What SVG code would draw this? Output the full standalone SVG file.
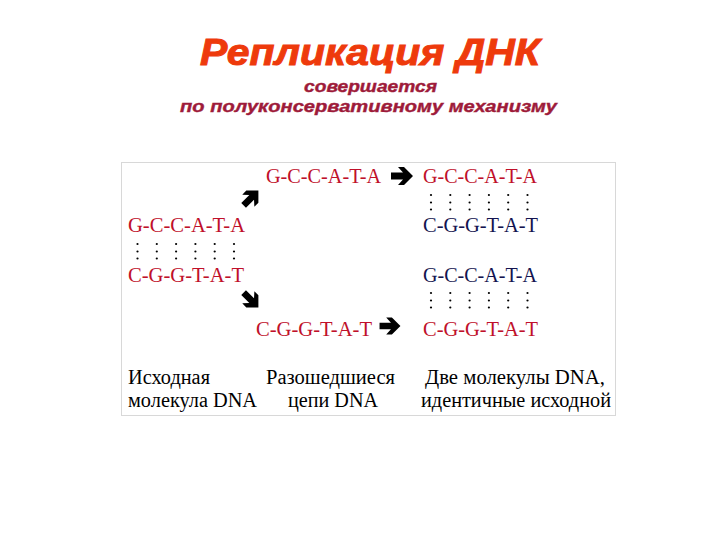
<svg xmlns="http://www.w3.org/2000/svg" xmlns:xlink="http://www.w3.org/1999/xlink" width="720" height="540" viewBox="0 0 720 540">
<style>
.title{font-family:"Liberation Sans",Arial,sans-serif;font-weight:bold;font-style:italic;fill:#EE3A0C;stroke:#EE3A0C;stroke-width:1}
.sub{font-family:"Liberation Sans",Arial,sans-serif;font-weight:bold;font-style:italic;fill:#9E1B3A;stroke:#9E1B3A;stroke-width:0.4;font-size:17px}
.seq{font-family:"Liberation Serif","Times New Roman",serif;font-size:20px}
.old{fill:#C0102A}
.new{fill:#141450}
.lbl{font-family:"Liberation Serif","Times New Roman",serif;font-size:20.5px;fill:#000}
.dot{fill:#000}
</style>
<defs>
<polygon id="arr" points="-11,-3.5 1,-3.5 -4,-9 2,-9 11,0 2,9 -4,9 1,3.5 -11,3.5" fill="#000"/>
<g id="col">
<circle class="dot" cx="0" cy="0" r="1.1"/>
<circle class="dot" cx="0" cy="7.5" r="1.1"/>
<circle class="dot" cx="0" cy="14.5" r="1.1"/>
</g>
<g id="dots">
<use xlink:href="#col" x="0"/>
<use xlink:href="#col" x="19.3"/>
<use xlink:href="#col" x="38.6"/>
<use xlink:href="#col" x="57.9"/>
<use xlink:href="#col" x="77.2"/>
<use xlink:href="#col" x="96.5"/>
</g>
</defs>
<rect width="720" height="540" fill="#fff"/>
<g id="title">
<text class="title" x="200" y="65" font-size="37" textLength="340" lengthAdjust="spacingAndGlyphs">Репликация ДНК</text>
<text class="sub" x="304" y="92" textLength="133" lengthAdjust="spacingAndGlyphs">совершается</text>
<text class="sub" x="180" y="112" textLength="377" lengthAdjust="spacingAndGlyphs">по полуконсервативному механизму</text>
</g>
<rect x="121.5" y="162.5" width="494" height="253" fill="none" stroke="#d8d8d8" stroke-width="1"/>
<g id="original">
<text class="seq old" x="128" y="232" textLength="117" lengthAdjust="spacingAndGlyphs">G-C-C-A-T-A</text>
<use xlink:href="#dots" x="137.5" y="244"/>
<text class="seq old" x="128" y="282" textLength="116" lengthAdjust="spacingAndGlyphs">C-G-G-T-A-T</text>
</g>
<g id="strand-top">
<text class="seq old" x="266" y="183" textLength="115" lengthAdjust="spacingAndGlyphs">G-C-C-A-T-A</text>
</g>
<g id="strand-bottom">
<text class="seq old" x="256" y="336" textLength="116" lengthAdjust="spacingAndGlyphs">C-G-G-T-A-T</text>
</g>
<g id="molecule1">
<text class="seq old" x="423" y="183" textLength="114" lengthAdjust="spacingAndGlyphs">G-C-C-A-T-A</text>
<use xlink:href="#dots" x="431" y="195"/>
<text class="seq new" x="423" y="232" textLength="115" lengthAdjust="spacingAndGlyphs">C-G-G-T-A-T</text>
</g>
<g id="molecule2">
<text class="seq new" x="423" y="282" textLength="114" lengthAdjust="spacingAndGlyphs">G-C-C-A-T-A</text>
<use xlink:href="#dots" x="431" y="293"/>
<text class="seq old" x="423" y="336" textLength="115" lengthAdjust="spacingAndGlyphs">C-G-G-T-A-T</text>
</g>
<g id="connectors">
<use xlink:href="#arr" transform="translate(251,198) rotate(-45) scale(0.95)"/>
<use xlink:href="#arr" transform="translate(251,300) rotate(45) scale(0.95)"/>
<use xlink:href="#arr" transform="translate(402,176)"/>
<use xlink:href="#arr" transform="translate(390,326) scale(0.95)"/>
</g>
<g id="labels">
<text class="lbl" x="128" y="384" textLength="82" lengthAdjust="spacingAndGlyphs">Исходная</text>
<text class="lbl" x="128" y="407" textLength="129" lengthAdjust="spacingAndGlyphs">молекула DNA</text>
<text class="lbl" x="266" y="384" textLength="129" lengthAdjust="spacingAndGlyphs">Разошедшиеся</text>
<text class="lbl" x="288" y="407" textLength="90" lengthAdjust="spacingAndGlyphs">цепи DNA</text>
<text class="lbl" x="425" y="384" textLength="180" lengthAdjust="spacingAndGlyphs">Две молекулы DNA,</text>
<text class="lbl" x="421" y="407" textLength="190" lengthAdjust="spacingAndGlyphs">идентичные исходной</text>
</g>
</svg>
